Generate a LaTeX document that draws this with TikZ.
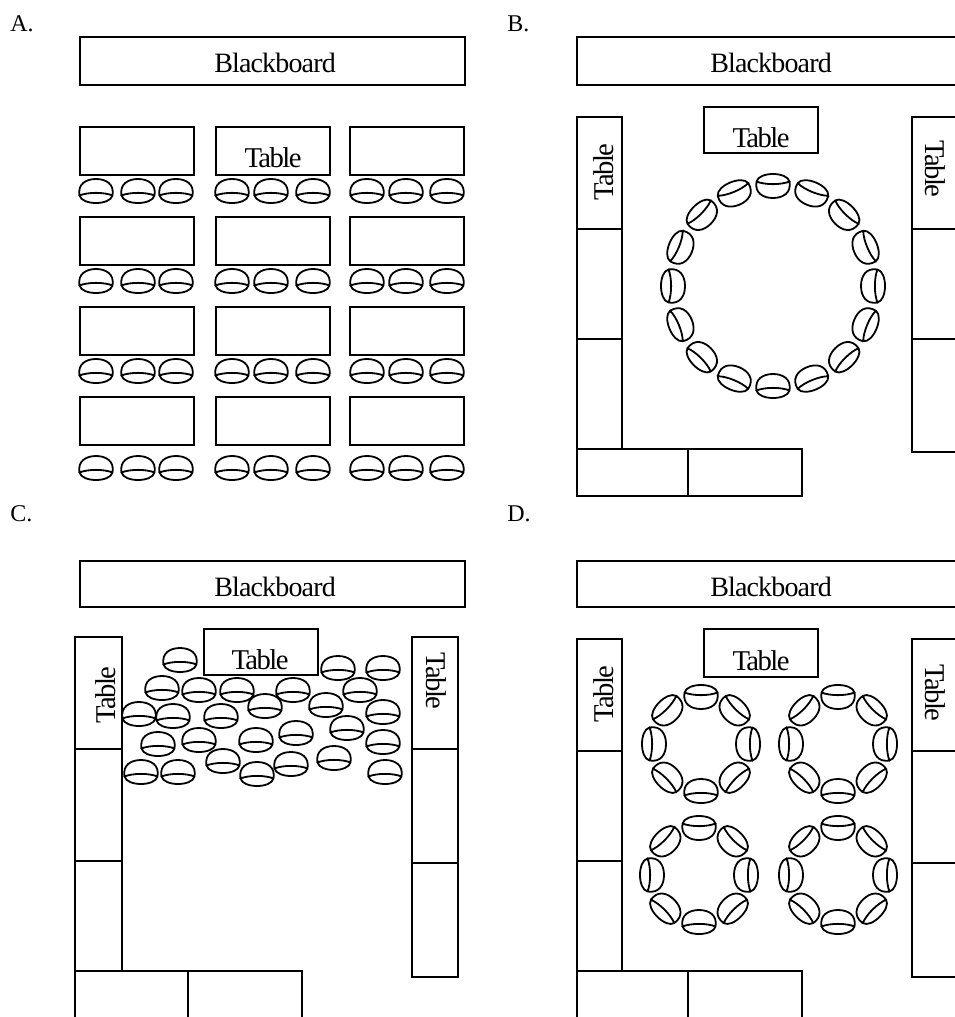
\documentclass[tikz,border=0pt]{standalone}
\usepackage{fontspec}
\setmainfont{Liberation Serif}
\newfontfamily\tablefont[LetterSpace=-5.5]{Liberation Serif}
\newfontfamily\boardfont[LetterSpace=-3]{Liberation Serif}
\tikzset{
  desk/.style={draw=black, fill=white, line width=1.2pt},
  boardlabel/.style={font=\boardfont\fontsize{21}{24}\selectfont, inner sep=0pt},
  tablelabel/.style={font=\tablefont\fontsize{21.5}{24}\selectfont, inner sep=0pt},
  panellabel/.style={font=\fontsize{18}{20}\selectfont, anchor=west, inner sep=0pt},
  chair/.pic={
    \draw[line width=1.35pt, fill=white]
      (-16.5,4.5) .. controls (-18.5,-7) and (-10,-12) .. (0,-12)
      .. controls (10,-12) and (18.5,-7) .. (16.5,4.5)
      .. controls (14,14.5) and (-14,14.5) .. (-16.5,4.5)
      .. controls (-8,1) and (8,1) .. (16.5,4.5);
  }
}

\begin{document}
\begin{tikzpicture}[x=0.75pt, y=-0.75pt]
\useasboundingbox (0,0) rectangle (955,1017);

%% ─── Panel A ────────────────────────────────────────────────
\node[panellabel] (labelA) at (10,24) {A.};
\draw[desk] (80,37) rectangle (465,85);
\node[boardlabel] (boardA) at (275,63) {Blackboard};
\foreach \y/\cy in {127/191, 217/281, 307/371, 397/468} {
  \draw[desk] (80,\y) rectangle (194,\y+48);
  \draw[desk] (216,\y) rectangle (330,\y+48);
  \draw[desk] (350,\y) rectangle (464,\y+48);
  \foreach \x in {96, 138, 176, 232, 271, 313, 367, 406, 447}
    \pic at (\x,\cy) {chair};
}
\node[tablelabel] (tableA) at (273,158) {Table};

%% ─── Panel B ────────────────────────────────────────────────
\node[panellabel] (labelB) at (507,24) {B.};
\draw[desk] (955,37) -- (577,37) -- (577,85) -- (955,85);
\node[boardlabel] (boardB) at (771,63) {Blackboard};
\draw[desk] (704,107) rectangle (818,153);
\node[tablelabel] (tableB) at (761,138) {Table};
\draw[desk] (577,117) rectangle (622,229);
\draw[desk] (577,229) rectangle (622,339);
\draw[desk] (577,339) rectangle (622,449);
\draw[desk] (577,449) rectangle (688,496);
\draw[desk] (688,449) rectangle (802,496);
\draw[desk] (955,117) -- (912,117) -- (912,452) -- (955,452);
\draw[desk] (912,229) -- (955,229);
\draw[desk] (912,339) -- (955,339);
\node[tablelabel, rotate=90] (tableBl) at (604,172) {Table};
\node[tablelabel, rotate=-90] (tableBr) at (935,169) {Table};
\foreach \a in {0,22.5,...,337.5}
  \pic[rotate=\a+90] at ({773+100*cos(\a)},{286-100*sin(\a)}) {chair};

%% ─── Panel C ────────────────────────────────────────────────
\node[panellabel] (labelC) at (10,514) {C.};
\draw[desk] (80,561) rectangle (465,607);
\node[boardlabel] (boardC) at (275,587) {Blackboard};
\draw[desk] (204,629) rectangle (318,675);
\node[tablelabel] (tableC) at (260,660) {Table};
\draw[desk] (75,637) rectangle (122,749);
\draw[desk] (75,749) rectangle (122,861);
\draw[desk] (75,861) rectangle (122,971);
\draw[desk] (75,1017) -- (75,971) -- (302,971) -- (302,1017);
\draw[desk] (188,971) -- (188,1017);
\draw[desk] (412,637) rectangle (458,749);
\draw[desk] (412,749) rectangle (458,863);
\draw[desk] (412,863) rectangle (458,977);
\node[tablelabel, rotate=90] (tableCl) at (106,695) {Table};
\node[tablelabel, rotate=-90] (tableCr) at (436,681) {Table};
\foreach \x/\y in {180/660, 338/668, 383/668, 162/688, 199/690, 237/690, 293/690,
    360/690, 139/714, 173/716, 221/716, 265/706, 326/705, 383/712, 158/744, 199/740,
    256/740, 296/733, 347/728, 383/742, 223/761, 257/774, 291/764, 334/758, 141/772,
    178/772, 385/772}
  \pic at (\x,\y) {chair};

%% ─── Panel D ────────────────────────────────────────────────
\node[panellabel] (labelD) at (507,514) {D.};
\draw[desk] (955,561) -- (577,561) -- (577,607) -- (955,607);
\node[boardlabel] (boardD) at (771,587) {Blackboard};
\draw[desk] (704,629) rectangle (818,677);
\node[tablelabel] (tableD) at (761,661) {Table};
\draw[desk] (577,639) rectangle (622,751);
\draw[desk] (577,751) rectangle (622,861);
\draw[desk] (577,861) rectangle (622,971);
\draw[desk] (577,1017) -- (577,971) -- (802,971) -- (802,1017);
\draw[desk] (688,971) -- (688,1017);
\draw[desk] (955,639) -- (912,639) -- (912,977) -- (955,977);
\draw[desk] (912,751) -- (955,751);
\draw[desk] (912,863) -- (955,863);
\node[tablelabel, rotate=90] (tableDl) at (604,694) {Table};
\node[tablelabel, rotate=-90] (tableDr) at (935,693) {Table};
\foreach \cx/\cy in {701/744, 838/744, 699/875, 838/875}
  \foreach \a in {0,45,...,315}
    \pic[rotate=\a+90] at ({\cx+47*cos(\a)},{\cy-47*sin(\a)}) {chair};

\end{tikzpicture}
\end{document}
